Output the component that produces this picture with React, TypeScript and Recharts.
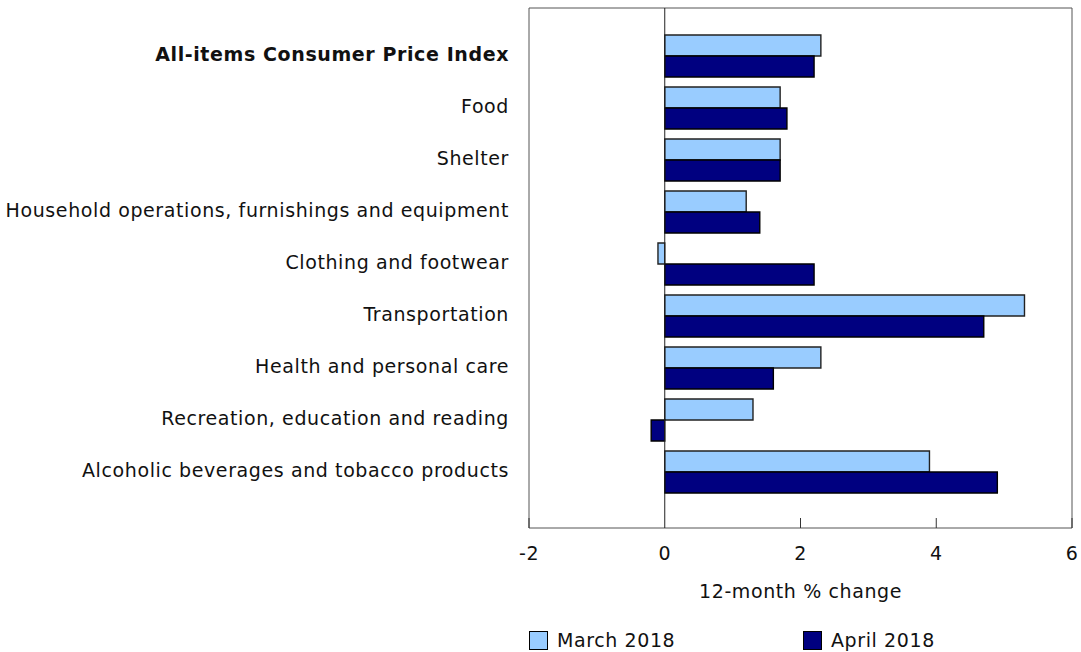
import { BarChart, Bar, XAxis, YAxis, Legend, Label } from "recharts";

const categories = [
  "All-items Consumer Price Index",
  "Food",
  "Shelter",
  "Household operations, furnishings and equipment",
  "Clothing and footwear",
  "Transportation",
  "Health and personal care",
  "Recreation, education and reading",
  "Alcoholic beverages and tobacco products",
];
const march2018 = [2.3, 1.7, 1.7, 1.2, -0.1, 5.3, 2.3, 1.3, 3.9];
const april2018 = [2.2, 1.8, 1.7, 1.4, 2.2, 4.7, 1.6, -0.2, 4.9];
const xTicks = [-2, 0, 2, 4, 6];
const seriesNames = ["March 2018", "April 2018"];

const FONT = "'DejaVu Sans', Verdana, sans-serif";
const LIGHT = "#99ccff";
const DARK = "#000080";
const BORDER = "#555";
const PLOT_TOP = 8;

const data = categories.map((name, i) => ({
  name,
  march: march2018[i],
  april: april2018[i],
}));

const textStyle = { fontFamily: FONT, fontSize: 19, letterSpacing: 0.6 };

const YTick = (props: any) => {
  const { x, y, payload } = props;
  const bold = payload.value === categories[0];
  return (
    <text
      x={x - 20}
      y={y - 2}
      dy="0.35em"
      textAnchor="end"
      style={textStyle}
      fontWeight={bold ? "bold" : "normal"}
      fill="#111"
    >
      {payload.value}
    </text>
  );
};

// ticks point up into the plot; the zero tick runs the full height as the zero line
const XTick = (props: any) => {
  const { x, y, payload } = props;
  const top = payload.value === 0 ? PLOT_TOP : y - 10;
  return (
    <g>
      <line x1={x} y1={y} x2={x} y2={top} stroke={payload.value === 0 ? "#222" : "#333"} />
      <text x={x} y={y + 25} dy="0.35em" textAnchor="middle" style={textStyle} fill="#111">
        {payload.value}
      </text>
    </g>
  );
};

const LegendContent = () => (
  <div style={{ height: 24, position: "relative", ...textStyle, color: "#111" }}>
    {seriesNames.map((s, i) => (
      <div
        key={s}
        style={{ position: "absolute", left: i === 0 ? 529 : 803, top: 2, display: "flex", alignItems: "center" }}
      >
        <span
          style={{
            display: "inline-block",
            width: 17,
            height: 17,
            background: i === 0 ? LIGHT : DARK,
            border: "1px solid #000",
            marginRight: 9,
          }}
        />
        <span>{s}</span>
      </div>
    ))}
  </div>
);

export default function App() {
  return (
    <div style={{ position: "absolute", left: 0, top: 0 }}>
      <BarChart
        width={1081}
        height={652}
        data={data}
        layout="vertical"
        margin={{ top: PLOT_TOP - 1, right: 8, left: 0, bottom: 1 }}
        barCategoryGap={5}
        barGap={0}
      >
        <XAxis
          type="number"
          domain={[-2, 6]}
          ticks={xTicks}
          tickSize={0}
          tickMargin={0}
          axisLine={{ stroke: BORDER }}
          tick={<XTick />}
          height={99}
          interval={0}
        >
          <Label
            value="12-month % change"
            position="insideTop"
            offset={57}
            style={{ ...textStyle, fill: "#111" }}
          />
        </XAxis>
        <XAxis
          xAxisId="top"
          orientation="top"
          type="number"
          domain={[-2, 6]}
          height={1}
          tick={false}
          tickLine={false}
          axisLine={{ stroke: BORDER }}
        />
        <YAxis
          type="category"
          dataKey="name"
          width={529}
          tickSize={0}
          tickMargin={0}
          axisLine={{ stroke: BORDER }}
          tick={<YTick />}
          padding={{ top: 22, bottom: 30 }}
          interval={0}
        />
        <YAxis
          yAxisId="right"
          orientation="right"
          type="number"
          domain={[0, 1]}
          width={1}
          tick={false}
          tickLine={false}
          axisLine={{ stroke: BORDER }}
        />
        <Bar dataKey="march" name={seriesNames[0]} fill={LIGHT} stroke="#222" strokeWidth={1.4} isAnimationActive={false} />
        <Bar dataKey="april" name={seriesNames[1]} fill={DARK} stroke="#000" strokeWidth={1.4} isAnimationActive={false} />
        <Legend verticalAlign="bottom" content={<LegendContent />} />
      </BarChart>
    </div>
  );
}
